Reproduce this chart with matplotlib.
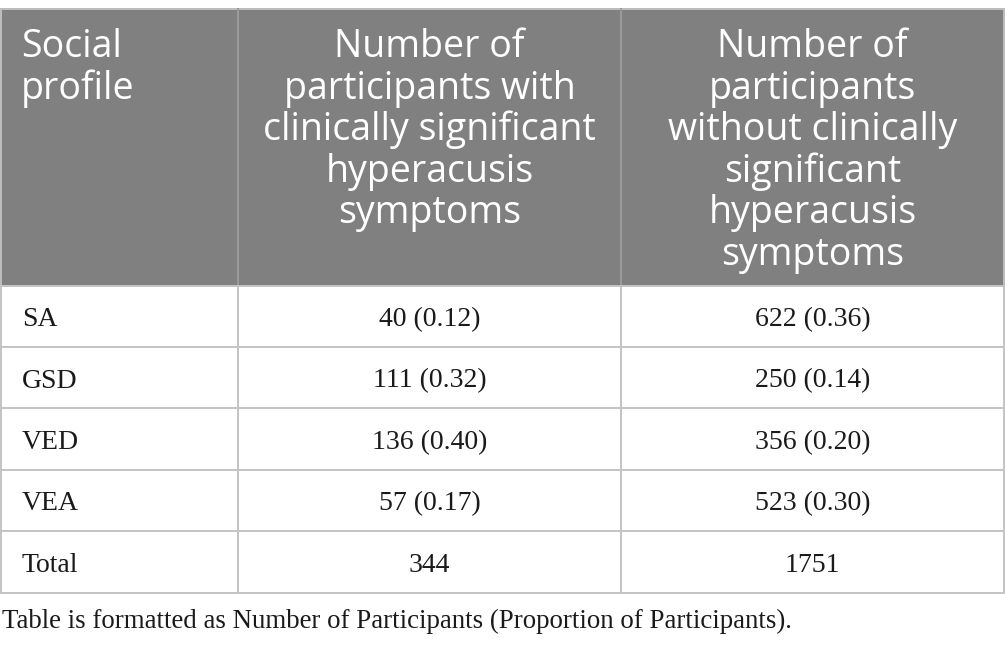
import matplotlib
matplotlib.use("Agg")
import matplotlib.pyplot as plt
from matplotlib.patches import Rectangle

# ---- data ----
columns = ["Social\nprofile",
           "Number of\nparticipants with\nclinically significant\nhyperacusis\nsymptoms",
           "Number of\nparticipants\nwithout clinically\nsignificant\nhyperacusis\nsymptoms"]
profiles = ["SA", "GSD", "VED", "VEA"]
with_counts = [40, 111, 136, 57]
with_props = [0.12, 0.32, 0.40, 0.17]
without_counts = [622, 250, 356, 523]
without_props = [0.36, 0.14, 0.20, 0.30]
total_with = 344
total_without = 1751
footnote = "Table is formatted as Number of Participants (Proportion of Participants)."

# ---- layout ----
W, H = 1005, 649
DPI = 100
fig = plt.figure(figsize=(W / DPI, H / DPI), dpi=DPI)
ax = fig.add_axes([0, 0, 1, 1])
ax.set_xlim(0, W)
ax.set_ylim(H, 0)
ax.axis("off")

col_x = [0.5, 238, 621, 1004]
top = 8.5
header_bottom = 285.5
row_h = 61.4
n_rows = len(profiles) + 1
row_y = [header_bottom + i * row_h for i in range(n_rows + 1)]

header_bg = "#808080"
grid = "#c4c4c4"
px = 72 / DPI  # points per pixel

# header background
ax.add_patch(Rectangle((col_x[0], top), col_x[-1] - col_x[0], header_bottom - top,
                       facecolor=header_bg, edgecolor="none", zorder=1))

# grid lines
lw = 2 * px
ax.plot([col_x[0], col_x[-1]], [top, top], color="#bdbdbd", lw=lw, zorder=3)
for y in row_y:
    ax.plot([col_x[0], col_x[-1]], [y, y], color=grid, lw=lw, zorder=3)
for i, x in enumerate(col_x):
    ax.plot([x, x], [top, header_bottom], color="#9a9a9a" if 0 < i < 3 else "#bdbdbd",
            lw=lw, zorder=3)
    ax.plot([x, x], [header_bottom, row_y[-1]], color=grid, lw=lw, zorder=3)

# header text
hfont = dict(family="Open Sans", size=37.5 * px, color="white")
line1 = 57
lstep = 41.6
for ci, label in enumerate(columns):
    for li, line in enumerate(label.split("\n")):
        if ci == 0:
            ax.text(21, line1 + li * lstep, line, ha="left", va="baseline", zorder=4, **hfont)
        else:
            xc = (col_x[ci] + col_x[ci + 1]) / 2
            ax.text(xc, line1 + li * lstep, line, ha="center", va="baseline", zorder=4, **hfont)

# body text
bfont = dict(family="Liberation Serif", size=27.8 * px, color="#1a1a1a")
body_rows = [(p, f"{a} ({pa:.2f})", f"{b} ({pb:.2f})")
             for p, a, pa, b, pb in zip(profiles, with_counts, with_props,
                                        without_counts, without_props)]
body_rows.append(("Total", str(total_with), str(total_without)))
for ri, (c0, c1, c2) in enumerate(body_rows):
    yb = (row_y[ri] + row_y[ri + 1]) / 2 + 10
    ax.text(22, yb, c0, ha="left", va="baseline", zorder=4, **bfont)
    ax.text((col_x[1] + col_x[2]) / 2, yb, c1, ha="center", va="baseline", zorder=4, **bfont)
    ax.text((col_x[2] + col_x[3]) / 2, yb, c2, ha="center", va="baseline", zorder=4, **bfont)

# footnote
ax.text(2, 628.5, footnote, ha="left", va="baseline", zorder=4,
        family="Liberation Serif", size=26.9 * px, color="#1a1a1a")

fig.savefig("out.png", dpi=DPI, facecolor="white")
